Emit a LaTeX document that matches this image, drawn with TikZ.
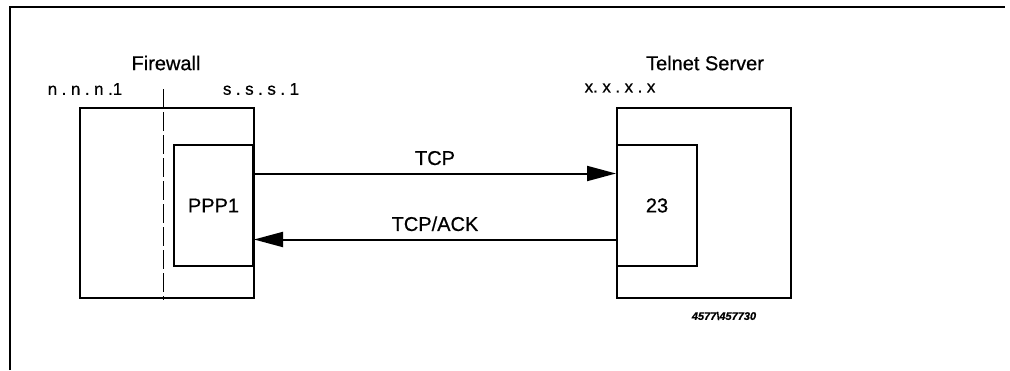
\documentclass[tikz,border=0pt]{standalone}
\usepackage{fontspec}
\setmainfont{Liberation Sans}[FakeBold=0.6]
\usetikzlibrary{arrows.meta}

\newcommand{\gap}{\hspace{4.5pt}}

\begin{document}
\begin{tikzpicture}[x=1pt, y=-1pt]
  % Estilos
  \tikzset{
    hostbox/.style={draw, line width=2pt, minimum width=174pt, minimum height=190pt, anchor=north west, inner sep=0pt},
    portbox/.style={draw, line width=2pt, minimum height=121pt, anchor=north west, inner sep=0pt, font=\fontsize{20}{23}\selectfont},
    title/.style={font=\fontsize{20}{23}\selectfont},
    addr/.style={font=\fontsize{17}{20}\selectfont},
    flow/.style={line width=2pt, -{Triangle[length=29pt, width=15pt]}},
    flowlabel/.style={font=\fontsize{20}{23}\selectfont}
  }

  \useasboundingbox (0,0) rectangle (1010,370);

  % Marco
  \draw[line width=1.6pt] (10,370) -- (10,7) -- (1005,7);

  % Cajas de los equipos
  \node[hostbox] (firewall) at (79,107) {};
  \node[hostbox] (server) at (616,107) {};

  % Interfaces
  \node[portbox, minimum width=79pt] (ppp) at (173,144) {PPP1};
  \node[portbox, minimum width=80pt] (port) at (616,144) {23};

  % Linea discontinua del cortafuegos
  \draw[line width=0.9pt, dash pattern=on 19pt off 4pt] (163,89) -- (163,300);

  % Titulos y direcciones
  \node[title] (fwtitle) at (166,63) {Firewall};
  \node[title] (srvtitle) at (705,63) {Telnet Server};
  \node[addr] (nnn) at (85,89) {n\gap.\gap n\gap.\gap n\gap.1};
  \node[addr] (sss) at (261,89) {s\gap.\gap s\gap.\gap s\gap.\gap 1};
  \node[addr] (xxx) at (620,88) {x.\gap x\gap.\gap x\gap.\gap x};

  % Flujos
  \draw[flow] ([yshift=32pt]ppp.east) -- ([yshift=32pt]port.west)
    node[flowlabel, midway, above=4pt] (tcp) {TCP};
  \draw[flow] ([yshift=-34pt]port.west) -- ([yshift=-34pt]ppp.east)
    node[flowlabel, midway, above=4pt] (ack) {TCP/ACK};

  % Referencia
  \node[font=\fontsize{11}{13}\selectfont\bfseries\itshape] (ref) at (724,316) {4577\textbackslash 457730};
\end{tikzpicture}
\end{document}
